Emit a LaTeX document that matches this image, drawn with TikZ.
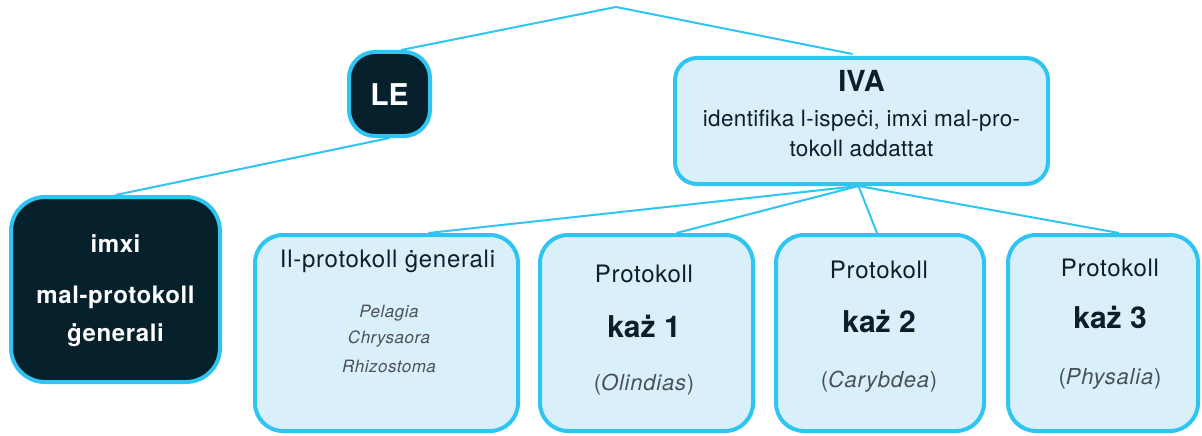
\documentclass[tikz,border=0pt]{standalone}
\usepackage{fontspec}
\setmainfont{TeX Gyre Heros}
\usetikzlibrary{calc}
\definecolor{cyanb}{HTML}{2EC5F2}
\definecolor{lightf}{HTML}{D9F0FA}
\definecolor{darkf}{HTML}{06202C}
\definecolor{darkt}{HTML}{0B1F2A}
\definecolor{grayt}{HTML}{4A5058}
\newcommand{\lsp}[1]{\addfontfeature{LetterSpace=#1}}
\tikzset{
  lightbox/.style={draw=cyanb, line width=4pt, fill=lightf, rounded corners=28pt, inner sep=0pt},
  darkbox/.style={draw=cyanb, line width=4pt, fill=darkf, rounded corners=30pt, inner sep=0pt},
  conn/.style={draw=cyanb, line width=2pt},
  txt/.style={anchor=base, inner sep=0pt, text=darkt},
  wtxt/.style={anchor=base, inner sep=0pt, text=white, font=\fontsize{24}{26}\selectfont\bfseries\lsp{2.5}},
  ptxt/.style={txt, font=\fontsize{24}{26}\selectfont\lsp{3}},
  ktxt/.style={txt, font=\fontsize{30}{34}\selectfont\bfseries},
  itxt/.style={txt, text=grayt, font=\fontsize{22}{24}\selectfont\lsp{3.5}},
  stxt/.style={txt, text=grayt, font=\fontsize{17}{19}\selectfont\itshape\lsp{3}}
}
\begin{document}
\begin{tikzpicture}[x=1pt,y=-1pt]
\useasboundingbox (0,0) rectangle (1202,436);
% boxes
\node[darkbox, rounded corners=26pt, minimum width=81pt, minimum height=84pt] (LE) at (389.5,94) {};
\node[lightbox, rounded corners=22pt, minimum width=373pt, minimum height=126pt] (IVA) at (861.5,121) {};
\node[darkbox, rounded corners=34pt, minimum width=209pt, minimum height=185pt] (imxi) at (115.5,289.5) {};
\node[lightbox, minimum width=263pt, minimum height=196pt] (gen) at (386.5,333) {};
\node[lightbox, minimum width=213pt, minimum height=196pt] (p1) at (646.5,333) {};
\node[lightbox, minimum width=208pt, minimum height=196pt] (p2) at (880,333) {};
\node[lightbox, minimum width=190pt, minimum height=196pt] (p3) at (1103,333) {};
% connectors
\coordinate (root) at (616,7);
\draw[conn] (root) -- (LE.75);
\draw[conn] (root) -- ([xshift=-9pt,yshift=2pt]IVA.north);
\draw[conn] (imxi.north) -- (LE.south);
\coordinate (ivab) at ([xshift=-3pt]IVA.south);
\draw[conn] (ivab) -- ([xshift=42pt]gen.north);
\draw[conn] (ivab) -- ([xshift=30pt]p1.north);
\draw[conn] (ivab) -- ([xshift=-3pt]p2.north);
\draw[conn] (ivab) -- ([xshift=16pt]p3.north);
% texts
\node[txt, text=white, font=\fontsize{30}{34}\selectfont\bfseries] (tLE) at (389.5,105) {LE};
\node[txt, font=\fontsize{29}{34}\selectfont\bfseries] (tIVA) at (861.5,92) {IVA};
\node[txt, font=\fontsize{22.5}{24}\selectfont\lsp{1.5}] (tIVA1) at (861.5,126) {identifika l-ispeċi, imxi mal-pro-};
\node[txt, font=\fontsize{22.5}{24}\selectfont\lsp{1.5}] (tIVA2) at (861.5,156) {tokoll addattat};
\node[wtxt] (tim1) at (115.5,252) {imxi};
\node[wtxt] (tim2) at (115.5,303) {mal-protokoll};
\node[wtxt] (tim3) at (115.5,341) {ġenerali};
\node[ptxt] (tgen) at (387.5,267) {Il-protokoll ġenerali};
\node[stxt] (ts1) at (389,317) {Pelagia};
\node[stxt] (ts2) at (389,343) {Chrysaora};
\node[stxt] (ts3) at (389,372) {Rhizostoma};
\node[ptxt] (tp1a) at (644,282) {Protokoll};
\node[ktxt] (tp1b) at (644,337) {każ 1};
\node[itxt] (tp1c) at (644,390) {(\textit{Olindias})};
\node[ptxt] (tp2a) at (879,278) {Protokoll};
\node[ktxt] (tp2b) at (879,332) {każ 2};
\node[itxt] (tp2c) at (879,387) {(\textit{Carybdea})};
\node[ptxt] (tp3a) at (1110,276) {Protokoll};
\node[ktxt] (tp3b) at (1110,328) {każ 3};
\node[itxt] (tp3c) at (1110,384) {(\textit{Physalia})};
\end{tikzpicture}
\end{document}
